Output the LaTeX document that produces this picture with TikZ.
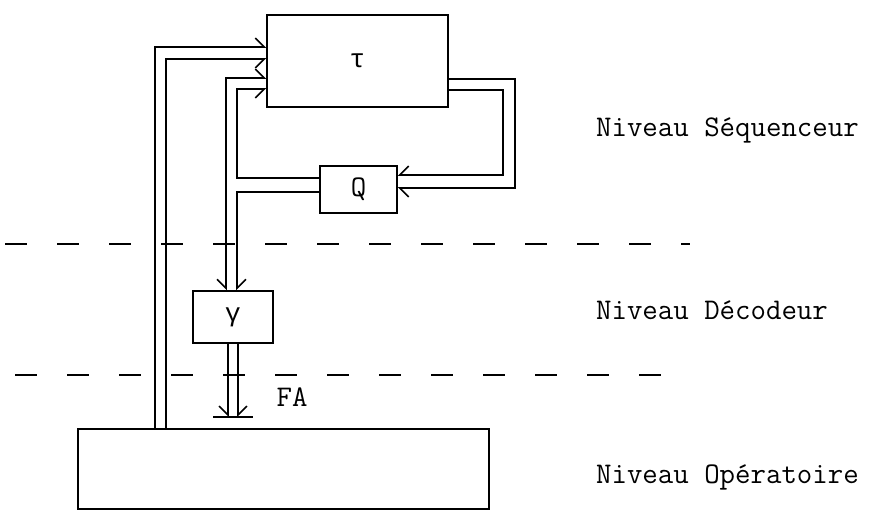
\documentclass[tikz,border=0pt]{standalone}
\usepackage{fontspec}
\newfontfamily\greekmono{Liberation Mono}
\usetikzlibrary{positioning, arrows.meta}

\begin{document}
\begin{tikzpicture}[
    x=1pt, y=-1pt,          % pixel-like coordinates, y downwards
    line width=1.6pt,
    font=\ttfamily\fontsize{30}{34}\selectfont,
    blk/.style={draw, inner sep=0pt},
    harpL/.style={-{Straight Barb[left, length=9pt, width=18pt]}},
    harpR/.style={-{Straight Barb[right, length=9pt, width=18pt]}},
    level_sep/.style={line width=1.4pt, dash pattern=on 22pt off 30pt},
    level_lbl/.style={anchor=west}
]
    \useasboundingbox (0,0) rectangle (879,513);

    % --- 1. blocks ---
    \node [blk, minimum width=181pt, minimum height=92pt] (tau) at (357.5,61)
        {\greekmono\fontsize{26}{30}\selectfont τ};
    \node [blk, minimum width=77pt, minimum height=47pt] (Q) at (358.5,189.5) {Q};
    \node [blk, minimum width=80pt, minimum height=52pt] (gam) at (233,317)
        {\greekmono\fontsize{26}{30}\selectfont γ};
    \node [blk, minimum width=411pt, minimum height=80pt] (oper) at (283.5,469) {};

    % --- 2. level separators ---
    \draw [level_sep] (5,244) -- (690,244);
    \draw [level_sep] (15,375) -- (690,375);

    % --- 3. operative level -> tau ---
    \draw [harpL] (155,0 |- oper.north) |- (tau.west |- 0,47);
    \draw [harpR] (166,0 |- oper.north) |- (tau.west |- 0,59);

    % --- 4. tau -> Q ---
    \draw [harpL] (tau.east |- 0,79) -| (515,188) -- (Q.east |- 0,188);
    \draw [harpR] (tau.east |- 0,90) -| (503,175) -- (Q.east |- 0,175);

    % --- 5. Q -> tau and gamma ---
    \coordinate (jn) at (226,185);
    \draw [harpL] (jn) |- (tau.west |- 0,78);
    \draw [harpR] (jn) -- (jn |- gam.north);
    \draw [harpR] (Q.west |- 0,178) -| (237,89) -- (tau.west |- 0,89);
    \draw [harpL] (Q.west |- 0,192) -| (237,0 |- gam.north);

    % --- 6. gamma -> FA ---
    \coordinate (fa) at (233,417);
    \draw [harpR] (228,0 |- gam.south) -- (fa -| 228,0);
    \draw [harpL] (238,0 |- gam.south) -- (fa -| 238,0);
    \draw (fa) +(-20,0) -- +(20,0);
    \node (fa_lbl) at (292,397) {FA};

    % --- 7. level names ---
    \node [level_lbl] (seq) at (592,130) {Niveau Séquenceur};
    \node [level_lbl] (dec) at (592,310) {Niveau Décodeur};
    \node [level_lbl] (op)  at (592,477) {Niveau Opératoire};

\end{tikzpicture}
\end{document}
